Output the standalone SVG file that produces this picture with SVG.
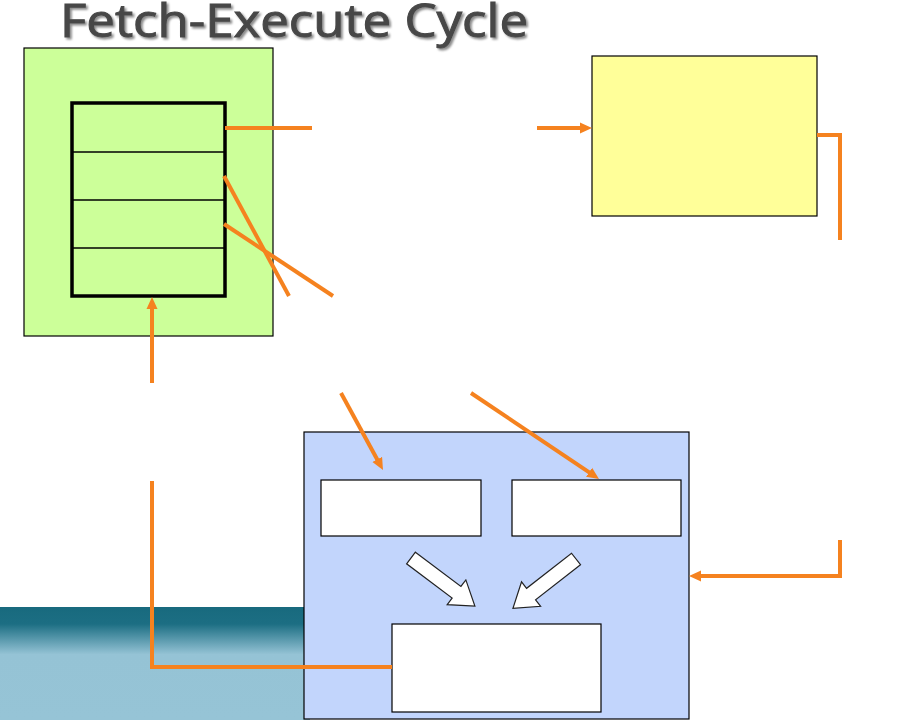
<svg xmlns="http://www.w3.org/2000/svg" width="920" height="720" viewBox="0 0 920 720">
<defs>
<style>
.box{stroke:#000;stroke-width:1.2}
.conn{fill:none;stroke:#f5821f;stroke-width:4}
.blk{fill:#fff;stroke:#222;stroke-width:1.2;stroke-linejoin:miter}
.title{font-family:"Open Sans","DejaVu Sans",sans-serif;font-size:46px;font-weight:500;stroke:#474747;stroke-width:1}
</style>
<marker id="ah" viewBox="0 0 12 12" markerWidth="12" markerHeight="12" markerUnits="userSpaceOnUse" refX="2" refY="6" orient="auto">
<path d="M0,0.5 L12,6 L0,11.5 z" fill="#f5821f"/>
</marker>
<linearGradient id="band" x1="0" y1="607" x2="0" y2="720" gradientUnits="userSpaceOnUse">
<stop offset="0" stop-color="#186a7e"/>
<stop offset="0.15" stop-color="#1c6e83"/>
<stop offset="0.42" stop-color="#95c3d5"/>
<stop offset="1" stop-color="#96c4d6"/>
</linearGradient>
<filter id="shadow" x="-5%" y="-20%" width="110%" height="150%">
<feGaussianBlur in="SourceAlpha" stdDeviation="1.3" result="b"/>
<feOffset in="b" dx="2" dy="2" result="o"/>
<feFlood flood-color="#8c8c8c"/>
<feComposite in2="o" operator="in" result="s"/>
<feMerge><feMergeNode in="s"/><feMergeNode in="SourceGraphic"/></feMerge>
</filter>
</defs>
<rect width="920" height="720" fill="#fff"/>
<rect x="0" y="607" width="310" height="113" fill="url(#band)"/>

<g id="title">
<text class="title" x="60" y="37" fill="#474747" filter="url(#shadow)" textLength="468" lengthAdjust="spacingAndGlyphs">Fetch-Execute Cycle</text>
</g>

<g id="memory">
<rect class="box" x="24" y="48" width="249" height="288" fill="#ccff99"/>
<rect x="72" y="103" width="153" height="193" fill="none" stroke="#000" stroke-width="3.5"/>
<line x1="72" y1="152" x2="225" y2="152" stroke="#000" stroke-width="1.5"/>
<line x1="72" y1="200" x2="225" y2="200" stroke="#000" stroke-width="1.5"/>
<line x1="72" y1="248" x2="225" y2="248" stroke="#000" stroke-width="1.5"/>
</g>

<g id="register">
<rect class="box" x="592" y="56" width="225" height="160" fill="#ffff99"/>
</g>

<g id="cpu">
<rect class="box" x="304" y="432" width="385" height="287" fill="#c2d5fc"/>
<rect class="box" x="321" y="480" width="160" height="56" fill="#fff"/>
<rect class="box" x="512" y="480" width="169" height="56" fill="#fff"/>
<rect class="box" x="392" y="624" width="209" height="88" fill="#fff"/>
<polygon class="blk" transform="translate(411,558) rotate(37)" points="0,-7.3 57,-7.3 57,-15.5 80,0 57,15.5 57,7.3 0,7.3"/>
<polygon class="blk" transform="translate(576,559) rotate(142)" points="0,-7.3 57,-7.3 57,-15.5 80,0 57,15.5 57,7.3 0,7.3"/>
</g>

<g id="connectors">
<line class="conn" x1="225" y1="128" x2="312" y2="128"/>
<line class="conn" x1="537" y1="128" x2="582" y2="128" marker-end="url(#ah)"/>
<polyline class="conn" points="817,135 840,135 840,240"/>
<line class="conn" x1="224" y1="176" x2="289" y2="296"/>
<line class="conn" x1="224" y1="224" x2="333" y2="296"/>
<line class="conn" x1="341" y1="393" x2="378.2" y2="461.2" marker-end="url(#ah)"/>
<line class="conn" x1="471" y1="393" x2="590.7" y2="473.4" marker-end="url(#ah)"/>
<polyline class="conn" points="840,540 840,576 699,576" marker-end="url(#ah)"/>
<line class="conn" x1="152" y1="383" x2="152" y2="307" marker-end="url(#ah)"/>
<polyline class="conn" points="152,481 152,667 392,667"/>
</g>
</svg>
